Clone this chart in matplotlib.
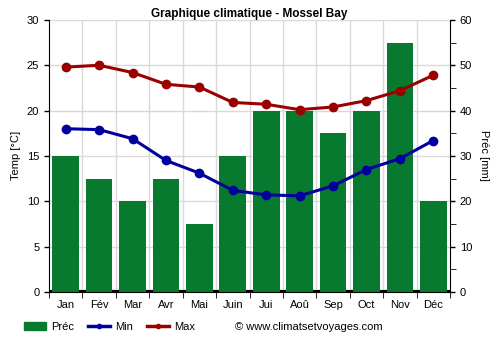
import numpy as np
import matplotlib
matplotlib.use("Agg")
import matplotlib.pyplot as plt
from matplotlib.lines import Line2D
from matplotlib.patches import Patch

plt.rcParams["font.family"] = ["Liberation Sans", "DejaVu Sans"]

months = ["Jan", "Fév", "Mar", "Avr", "Mai", "Juin",
          "Jui", "Aoû", "Sep", "Oct", "Nov", "Déc"]
prec = [30, 25, 20, 25, 15, 30, 40, 40, 35, 40, 55, 20]
t_min = [18.0, 17.9, 16.9, 14.5, 13.1, 11.2, 10.7, 10.6, 11.7, 13.5, 14.7, 16.7]
t_max = [24.8, 25.0, 24.2, 22.9, 22.6, 20.9, 20.7, 20.1, 20.4, 21.1, 22.2, 23.9]

GREEN = "#077a30"
BLUE = "#00009c"
RED = "#9a0000"
GRID = "#d9d9d9"

fig = plt.figure(figsize=(5, 3.5), dpi=100)
ax = fig.add_axes([0.098, 0.166, 0.802, 0.777])
ax2 = ax.twinx()

x = np.arange(len(months))

# bars live on the right (precipitation) axis, drawn under the temperature lines
ax2.bar(x, prec, width=0.8, color=GREEN, zorder=2)
ax2.axhline(0, color="black", linewidth=3, zorder=1)
ax2.set_ylim(0, 60)
ax2.set_yticks(np.arange(0, 61, 10))
ax2.set_yticks(np.arange(5, 60, 10), minor=True)
ax2.set_ylabel("Préc [mm]", rotation=270, labelpad=12, fontsize=8)

ax.set_zorder(ax2.get_zorder() + 1)
ax.patch.set_visible(False)

ax.plot(x, t_max, color=RED, linewidth=2.2, marker="o", markersize=6, zorder=4)
ax.plot(x, t_min, color=BLUE, linewidth=2.2, marker="o", markersize=6, zorder=4)

ax.set_ylim(0, 30)
ax.set_yticks(np.arange(0, 31, 5))
ax.set_xlim(-0.5, len(months) - 0.5)
ax.set_xticks(x)
ax.set_xticklabels(months)
ax.set_xticks(np.arange(-0.5, len(months), 1), minor=True)
ax.tick_params(axis="x", which="major", length=0, pad=6)
ax.tick_params(axis="x", which="minor", length=4)
ax.set_ylabel("Temp [°C]", fontsize=8)

# grid goes on the back axis so it stays under the bars
for yv in np.arange(5, 31, 5):
    ax2.axhline(yv * 2, color=GRID, linewidth=1, zorder=0)
for xv in np.arange(0.5, len(months) - 0.5, 1):
    ax2.axvline(xv, color=GRID, linewidth=1, zorder=0)

for a in (ax, ax2):
    a.tick_params(labelsize=8, width=1)
    a.spines["top"].set_visible(False)
ax.spines["right"].set_visible(False)
ax2.spines["left"].set_visible(False)
ax2.spines["bottom"].set_visible(False)
ax2.tick_params(which="minor", length=4)

ax.set_title("Graphique climatique - Mossel Bay", fontsize=8.5,
             fontweight="bold", pad=-1)

handles = [
    Patch(color=GREEN, label="Préc"),
    Line2D([], [], color=BLUE, linewidth=2.5, marker="o", markersize=3, label="Min"),
    Line2D([], [], color=RED, linewidth=2.5, marker="o", markersize=3, label="Max"),
]
fig.legend(handles=handles, loc="center left", bbox_to_anchor=(0.048, 0.066),
           ncol=3, frameon=False, fontsize=8, handlelength=2.0,
           columnspacing=1.25, handletextpad=0.45, borderpad=0,
           borderaxespad=0)
fig.text(0.47, 0.066, "© www.climatsetvoyages.com", fontsize=8, va="center")

fig.savefig("out.png", dpi=100)
